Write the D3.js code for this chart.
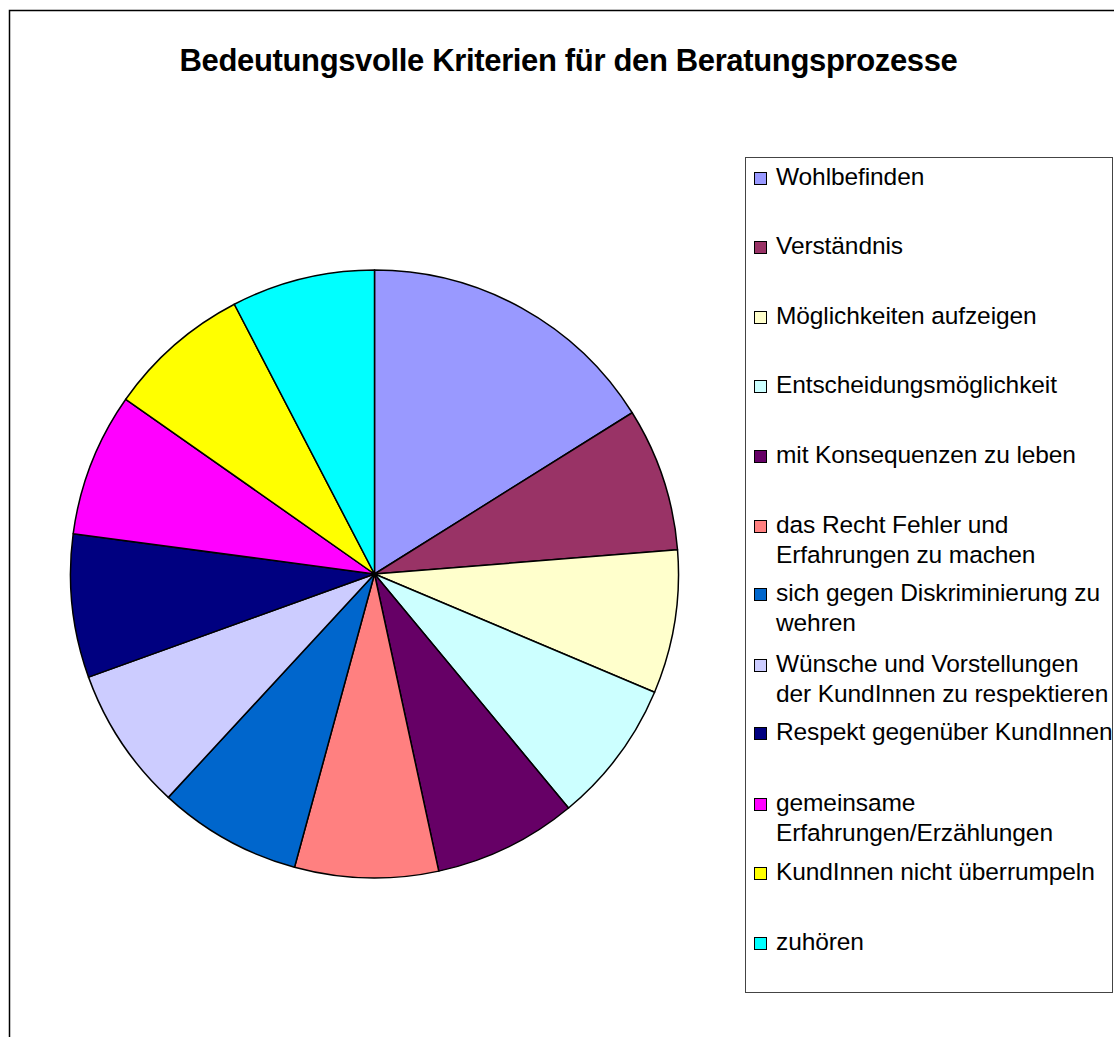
<!DOCTYPE html>
<html><head><meta charset="utf-8">
<script src="https://cdn.jsdelivr.net/npm/d3@7"></script>
<style>body{margin:0;background:#fff}svg{display:block}</style>
</head><body>
<svg id="chart" width="1114" height="1037"></svg>
<script>
// ---- data ----
const title = "Bedeutungsvolle Kriterien für den Beratungsprozesse";
const categories = [
  "Wohlbefinden",
  "Verständnis",
  "Möglichkeiten aufzeigen",
  "Entscheidungsmöglichkeit",
  "mit Konsequenzen zu leben",
  "das Recht Fehler und Erfahrungen zu machen",
  "sich gegen Diskriminierung zu wehren",
  "Wünsche und Vorstellungen der KundInnen zu respektieren",
  "Respekt gegenüber KundInnen",
  "gemeinsame Erfahrungen/Erzählungen",
  "KundInnen nicht überrumpeln",
  "zuhören"
];
const values = [19, 9, 9, 9, 9, 9, 9, 9, 9, 9, 9, 9];
const legendLines = [
  ["Wohlbefinden"],
  ["Verständnis"],
  ["Möglichkeiten aufzeigen"],
  ["Entscheidungsmöglichkeit"],
  ["mit Konsequenzen zu leben"],
  ["das Recht Fehler und", "Erfahrungen zu machen"],
  ["sich gegen Diskriminierung zu", "wehren"],
  ["Wünsche und Vorstellungen", "der KundInnen zu respektieren"],
  ["Respekt gegenüber KundInnen"],
  ["gemeinsame", "Erfahrungen/Erzählungen"],
  ["KundInnen nicht überrumpeln"],
  ["zuhören"]
];
const colors = ["#9999FF","#993366","#FFFFCC","#CCFFFF","#660066","#FF8080",
                "#0066CC","#CCCCFF","#000080","#FF00FF","#FFFF00","#00FFFF"];

// ---- layout ----
const legendBaselines = [185, 254, 324, 393, 463, 533, 601, 672, 740, 811, 880, 950];
const cx = 374.5, cy = 574, r = 304;

const svg = d3.select("#chart");
const font = "'Liberation Sans', Arial, sans-serif";

// outer frame
svg.append("rect").attr("x", 9.5).attr("y", 10.5).attr("width", 1300).attr("height", 1300)
  .attr("fill", "#fff").attr("stroke", "#000").attr("stroke-width", 1.5);

// title
svg.append("text").attr("x", 568.5).attr("y", 71).attr("text-anchor", "middle")
  .attr("font-family", font).attr("font-weight", "bold").attr("font-size", 31)
  .attr("letter-spacing", -0.35)
  .text(title);

// pie
const color = d3.scaleOrdinal().domain(categories).range(colors);
const pie = d3.pie().sort(null).value(d => d.v);
const arc = d3.arc().innerRadius(0).outerRadius(r);
const data = categories.map((c, i) => ({c, v: values[i]}));
svg.append("g").attr("transform", `translate(${cx},${cy})`)
  .selectAll("path").data(pie(data)).join("path")
  .attr("d", arc).attr("fill", d => color(d.data.c))
  .attr("stroke", "#000").attr("stroke-width", 1.5).attr("stroke-linejoin", "round");

// legend
svg.append("rect").attr("x", 745.5).attr("y", 157.5).attr("width", 367).attr("height", 835)
  .attr("fill", "#fff").attr("stroke", "#444").attr("stroke-width", 1);
const lg = svg.append("g");
categories.forEach((c, i) => {
  const by = legendBaselines[i];
  lg.append("rect").attr("x", 754.5).attr("y", by - 12.5).attr("width", 12).attr("height", 12)
    .attr("fill", color(c)).attr("stroke", "#000").attr("stroke-width", 1);
  legendLines[i].forEach((ln, j) => {
    lg.append("text").attr("x", 776).attr("y", by + j * 30)
      .attr("font-family", font).attr("font-size", 24.5).attr("letter-spacing", -0.1)
      .attr("fill", "#000").text(ln);
  });
});
</script>
</body></html>
